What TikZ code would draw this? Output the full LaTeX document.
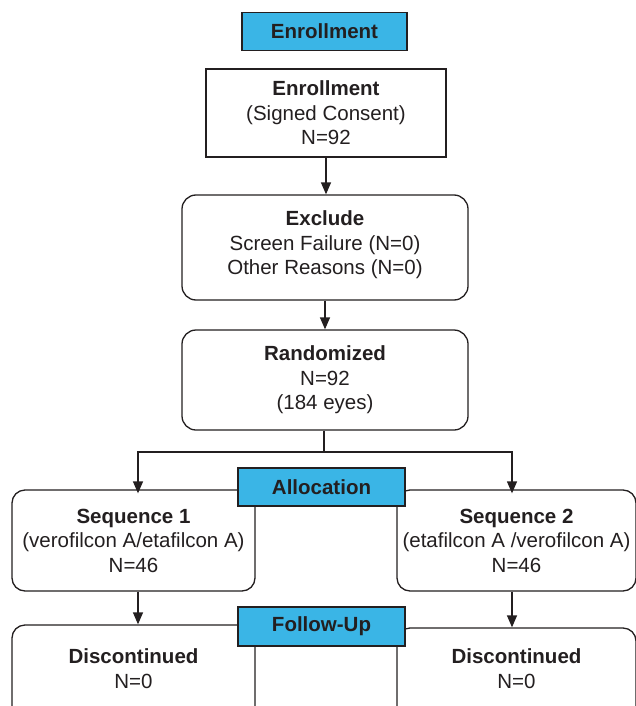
\documentclass[tikz,border=0pt]{standalone}
\usepackage{fontspec}
\setmainfont{Liberation Sans}
\usetikzlibrary{arrows.meta}
\definecolor{hdr}{RGB}{58,181,230}
\definecolor{ink}{RGB}{35,31,32}
\begin{document}
\begin{tikzpicture}[x=1pt,y=-1pt,
  font=\fontsize{20.5}{24.5}\selectfont,
  box/.style={draw=ink, line width=1.3pt, align=center, inner sep=0pt, text=ink, fill=white},
  rbox/.style={box, rounded corners=14pt},
  hbox/.style={draw=ink, line width=1.3pt, fill=hdr, inner sep=0pt,
    font=\fontsize{20.5}{24}\selectfont\bfseries, text=ink},
  arr/.style={draw=ink, line width=1.3pt, -{Triangle[width=10pt,length=12pt]}},
  ln/.style={draw=ink, line width=1.3pt}]
\useasboundingbox (0,0) rectangle (636,706);
\clip (0,0) rectangle (636,706);

% boxes
\node[box, minimum width=240pt, minimum height=88pt] (enroll) at (326,113)
  {\textbf{Enrollment}\\(Signed Consent)\\N=92};
\node[rbox, minimum width=286pt, minimum height=105pt] (exclude) at (325,247.5)
  {\textbf{Exclude}\\Screen Failure (N=0)\\Other Reasons (N=0)\\[-15.5pt]\mbox{}};
\node[rbox, minimum width=286pt, minimum height=100pt] (random) at (325,380)
  {\textbf{Randomized}\\N=92\\(184 eyes)};
\node[rbox, rounded corners=13pt, minimum width=243pt, minimum height=101pt] (seqA) at (133.5,540.5)
  {\textbf{Sequence 1}\\(verofilcon A/etafilcon A)\\N=46};
\node[rbox, rounded corners=13pt, minimum width=239pt, minimum height=101pt] (seqB) at (516.5,540.5)
  {\textbf{Sequence 2}\\(etafilcon A /verofilcon A)\\N=46};
\node[rbox, rounded corners=13pt, minimum width=243pt, minimum height=115pt] (discA) at (133.5,682.5)
  {\textbf{Discontinued}\\N=0\\[3pt]\mbox{}};
\node[rbox, rounded corners=13pt, minimum width=239pt, minimum height=112pt] (discB) at (516.5,684)
  {\textbf{Discontinued}\\N=0\\[6pt]\mbox{}};

% header tabs
\node[hbox, minimum width=165pt, minimum height=38pt] (hEnroll) at (324.5,31.5) {Enrollment};
\node[hbox, minimum width=167pt, minimum height=38pt] (hAlloc) at (321.5,487) {Allocation};
\node[hbox, minimum width=167pt, minimum height=39pt] (hFollow) at (321.5,626.5) {Follow-Up};

% connectors
\coordinate (split) at (324,452);
\draw[arr] (enroll.south) -- (enroll.south |- exclude.north);
\draw[arr] (exclude.south) -- (exclude.south |- random.north);
\draw[ln] (random.south -| split) -- (split);
\draw[arr] (split) -| ([xshift=4.5pt,yshift=-4pt]seqA.north);
\draw[arr] (split) -| ([xshift=-4.5pt,yshift=-4pt]seqB.north);
\draw[arr] ([xshift=4.5pt]seqA.south) -- ([xshift=4.5pt]seqA.south |- discA.north);
\draw[arr] ([xshift=-4.5pt]seqB.south) -- ([xshift=-4.5pt]seqB.south |- discB.north);
\end{tikzpicture}
\end{document}
